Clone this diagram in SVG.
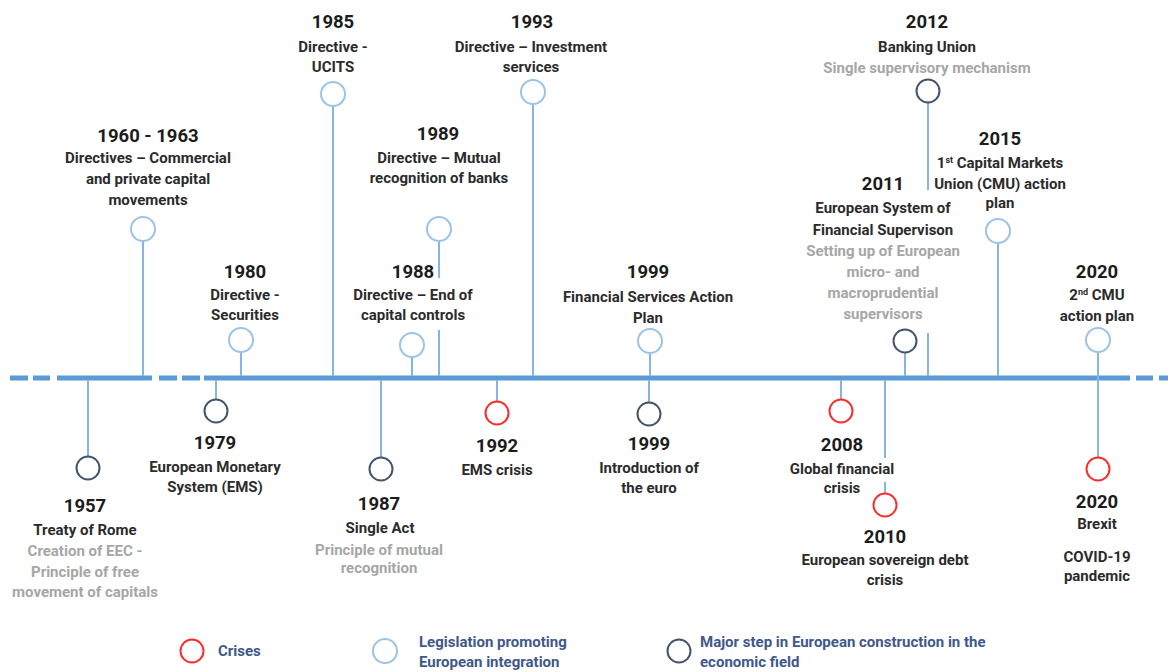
<svg xmlns="http://www.w3.org/2000/svg" width="1168" height="672" viewBox="0 0 1168 672">
<style>
text{font-family:Roboto,"Liberation Sans",sans-serif;font-weight:700;text-anchor:middle}
.yr{font-size:18.5px;fill:#1c1c1c}
.t{font-size:15px;fill:#2b2b2b}
.g{font-size:15px;fill:#a6a6a6}
.lg{font-size:15px;fill:#40588a;text-anchor:start}
.axis{stroke:#5b9bd5;stroke-width:5;fill:none}
.stem{stroke:#86b5e4;stroke-width:2;fill:none}
.leg{fill:#fff;stroke:#9dc3e6;stroke-width:2}
.maj{fill:#fff;stroke:#44546a;stroke-width:2}
.cri{fill:#fff;stroke:#ff2a2a;stroke-width:2}
.sup{font-size:9px}
</style>
<rect width="1168" height="672" fill="#fff"/>
<g id="timeline-axis">
<path class="axis" d="M10 378H28M33 378H50M57 378H152M159 378H177M182 378H200M204 378H1130M1136 378H1153M1159 378H1168"/>
</g>
<g id="connectors">
<path class="stem" d="M88 380V457"/>
<path class="stem" d="M143 241V376"/>
<path class="stem" d="M216 380V399"/>
<path class="stem" d="M241 352V376"/>
<path class="stem" d="M333 106V376"/>
<path class="stem" d="M381 380V457"/>
<path class="stem" d="M412 357V376"/>
<path class="stem" d="M439 241V278M439 330V376"/>
<path class="stem" d="M497 380V401"/>
<path class="stem" d="M533 104V376"/>
<path class="stem" d="M650 353V376"/>
<path class="stem" d="M649 380V402"/>
<path class="stem" d="M841 380V399"/>
<path class="stem" d="M885 380V458M885 482V493"/>
<path class="stem" d="M905 353V376"/>
<path class="stem" d="M928 103V190M928 333V376"/>
<path class="stem" d="M998 243V376"/>
<path class="stem" d="M1098 352V457"/>
</g>
<g id="n1957">
<circle class="maj" cx="88" cy="468" r="11.5"/>
<text class="yr" x="85" y="512">1957</text>
<text class="t" x="85" y="535">Treaty of Rome</text>
<text class="g" x="85" y="556">Creation of EEC -</text>
<text class="g" x="85" y="577">Principle of free</text>
<text class="g" x="85" y="597">movement of capitals</text>
</g>
<g id="n1960">
<circle class="leg" cx="143" cy="229" r="12"/>
<text class="yr" x="148" y="142">1960 - 1963</text>
<text class="t" x="148" y="163">Directives – Commercial</text>
<text class="t" x="148" y="184">and private capital</text>
<text class="t" x="148" y="205">movements</text>
</g>
<g id="n1979">
<circle class="maj" cx="216" cy="411" r="11.5"/>
<text class="yr" x="215" y="449">1979</text>
<text class="t" x="215" y="472">European Monetary</text>
<text class="t" x="215" y="492">System (EMS)</text>
</g>
<g id="n1980">
<circle class="leg" cx="241" cy="340" r="12"/>
<text class="yr" x="245" y="278">1980</text>
<text class="t" x="245" y="300">Directive -</text>
<text class="t" x="245" y="320">Securities</text>
</g>
<g id="n1985">
<circle class="leg" cx="333" cy="94" r="12"/>
<text class="yr" x="333" y="28">1985</text>
<text class="t" x="333" y="52">Directive -</text>
<text class="t" x="333" y="72">UCITS</text>
</g>
<g id="n1987">
<circle class="maj" cx="381" cy="469" r="11.5"/>
<text class="yr" x="379" y="510">1987</text>
<text class="t" x="380" y="533">Single Act</text>
<text class="g" x="379" y="555">Principle of mutual</text>
<text class="g" x="379" y="573">recognition</text>
</g>
<g id="n1988">
<circle class="leg" cx="412" cy="345" r="12"/>
<text class="yr" x="413" y="278">1988</text>
<text class="t" x="413" y="300">Directive – End of</text>
<text class="t" x="413" y="320">capital controls</text>
</g>
<g id="n1989">
<circle class="leg" cx="439" cy="229" r="12"/>
<text class="yr" x="438" y="140">1989</text>
<text class="t" x="439" y="163">Directive – Mutual</text>
<text class="t" x="439" y="183">recognition of banks</text>
</g>
<g id="n1992">
<circle class="cri" cx="497" cy="413" r="11.5"/>
<text class="yr" x="497" y="452">1992</text>
<text class="t" x="497" y="475">EMS crisis</text>
</g>
<g id="n1993">
<circle class="leg" cx="533" cy="92" r="12"/>
<text class="yr" x="532" y="28">1993</text>
<text class="t" x="531" y="52">Directive – Investment</text>
<text class="t" x="531" y="72">services</text>
</g>
<g id="n1999a">
<circle class="leg" cx="650" cy="341" r="12"/>
<text class="yr" x="648" y="278">1999</text>
<text class="t" x="648" y="302">Financial Services Action</text>
<text class="t" x="648" y="323">Plan</text>
</g>
<g id="n1999b">
<circle class="maj" cx="649" cy="414" r="11.5"/>
<text class="yr" x="649" y="450">1999</text>
<text class="t" x="649" y="473">Introduction of</text>
<text class="t" x="649" y="493">the euro</text>
</g>
<g id="n2008">
<circle class="cri" cx="841" cy="411" r="11.5"/>
<text class="yr" x="842" y="451">2008</text>
<text class="t" x="842" y="474">Global financial</text>
<text class="t" x="842" y="493">crisis</text>
</g>
<g id="n2010">
<circle class="cri" cx="885" cy="505" r="11.5"/>
<text class="yr" x="885" y="543">2010</text>
<text class="t" x="885" y="565">European sovereign debt</text>
<text class="t" x="885" y="585">crisis</text>
</g>
<g id="n2011">
<circle class="maj" cx="905" cy="341" r="11.5"/>
<text class="yr" x="883" y="190">2011</text>
<text class="t" x="883" y="213">European System of</text>
<text class="t" x="883" y="235">Financial Supervison</text>
<text class="g" x="883" y="256">Setting up of European</text>
<text class="g" x="883" y="277">micro- and</text>
<text class="g" x="883" y="298">macroprudential</text>
<text class="g" x="883" y="319">supervisors</text>
</g>
<g id="n2012">
<circle class="maj" cx="928" cy="91" r="11.5"/>
<text class="yr" x="927" y="28">2012</text>
<text class="t" x="927" y="52">Banking Union</text>
<text class="g" x="927" y="73">Single supervisory mechanism</text>
</g>
<g id="n2015">
<circle class="leg" cx="998" cy="231" r="12"/>
<text class="yr" x="1000" y="145">2015</text>
<text class="t" x="1000" y="168">1<tspan class="sup" dy="-5">st</tspan><tspan dy="5"> Capital Markets</tspan></text>
<text class="t" x="1000" y="189">Union (CMU) action</text>
<text class="t" x="1000" y="208">plan</text>
</g>
<g id="n2020a">
<circle class="leg" cx="1098" cy="340" r="12"/>
<text class="yr" x="1097" y="278">2020</text>
<text class="t" x="1097" y="300">2<tspan class="sup" dy="-5">nd</tspan><tspan dy="5"> CMU</tspan></text>
<text class="t" x="1097" y="321">action plan</text>
</g>
<g id="n2020b">
<circle class="cri" cx="1098" cy="469" r="11.5"/>
<text class="yr" x="1097" y="508">2020</text>
<text class="t" x="1097" y="529">Brexit</text>
<text class="t" x="1097" y="562">COVID-19</text>
<text class="t" x="1097" y="581">pandemic</text>
</g>
<g id="legend">
<circle class="cri" cx="192" cy="651" r="11.5"/>
<text class="lg" x="218" y="656">Crises</text>
<circle class="leg" cx="385" cy="651" r="12"/>
<text class="lg" x="419" y="647">Legislation promoting</text>
<text class="lg" x="419" y="667">European integration</text>
<circle class="maj" cx="679" cy="651" r="11.5"/>
<text class="lg" x="700" y="647">Major step in European construction in the</text>
<text class="lg" x="700" y="667">economic field</text>
</g>
</svg>
